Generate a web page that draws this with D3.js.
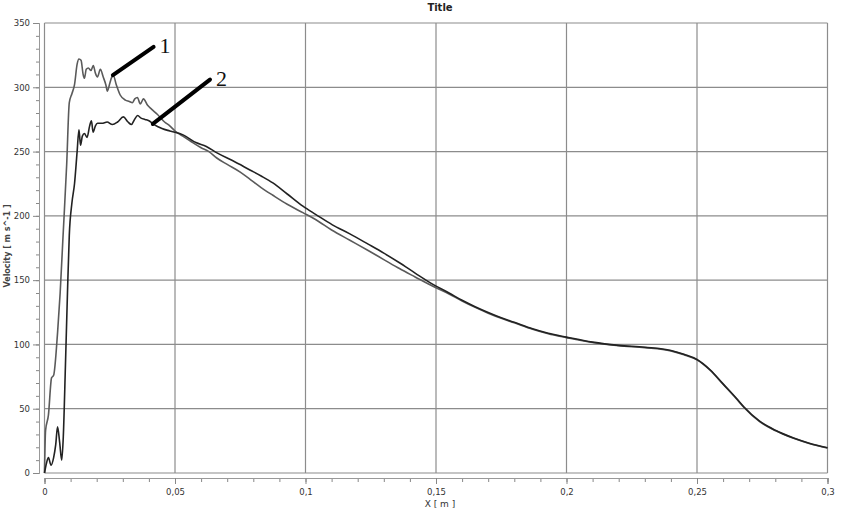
<!DOCTYPE html>
<html><head><meta charset="utf-8">
<script src="https://cdn.jsdelivr.net/npm/d3@7"></script>
<style>body{margin:0;background:#fff}svg{display:block}</style>
</head><body>
<svg id="c" width="843" height="514"></svg>
<script>
const curve1X = [0,0.0004,0.0015,0.0027,0.0035,0.005,0.006,0.007,0.0085,0.0095,0.0105,0.0115,0.0125,0.0132,0.014,0.0148,0.0153,0.016,0.0168,0.0178,0.0187,0.0195,0.0203,0.0214,0.0225,0.0235,0.0241,0.025,0.0258,0.0264,0.0275,0.029,0.031,0.0325,0.0337,0.0346,0.0356,0.0367,0.0379,0.0395,0.041,0.0432,0.046,0.048,0.05,0.053,0.056,0.06,0.063,0.066,0.07,0.075,0.079,0.083,0.0875,0.093,0.099,0.104,0.11,0.117,0.124,0.13,0.136,0.142,0.149,0.155,0.16,0.165,0.17,0.175,0.18,0.187,0.193,0.2,0.21,0.22,0.23,0.24,0.245,0.25,0.255,0.26,0.265,0.268,0.274,0.28,0.287,0.293,0.3];
const curve1Y = [0,33,45,74,76,109,140,180,240,288,295,302,318,322,321,310,307,314,315,313,317,311,308,314,308,302,297,303,308,309,302,294,290,289,288,291,292,287,291,286,283,279,273,270,266,262,258,253,250,245,240,234,228,222,216,209,202.5,197,189,181,173,166,159,152.5,145,139.2,133.8,128.8,124.3,120.3,116.8,111.8,108.3,105.3,101.5,99,97.5,95,92,88,80,69,58,51,40,33,27,23,19.5];
const curve2X = [0,0.0008,0.0015,0.0025,0.0035,0.0043,0.005,0.0058,0.0066,0.0072,0.008,0.0088,0.0095,0.0105,0.0115,0.0125,0.0132,0.0138,0.0145,0.0153,0.0163,0.0173,0.018,0.0186,0.0195,0.0203,0.022,0.024,0.026,0.028,0.0302,0.032,0.0333,0.0345,0.0357,0.037,0.0385,0.04,0.042,0.045,0.048,0.0531,0.058,0.062,0.0661,0.072,0.0787,0.083,0.0875,0.093,0.099,0.104,0.1103,0.117,0.124,0.13,0.136,0.142,0.149,0.155,0.16,0.165,0.17,0.175,0.18,0.187,0.193,0.2,0.21,0.22,0.23,0.24,0.245,0.25,0.255,0.26,0.265,0.268,0.274,0.28,0.287,0.293,0.3];
const curve2Y = [0,8,12,6,12,22,36,24,10,28,82,140,185,210,225,250,267,255,262,264,261,270,274,265,270,272,272,273,271,273,277,273,271,275,278,276,275,274,271,268,266,263,257,254,249,243,235.7,231,225.6,217,207.5,201,193,186,178,171,163.5,155.5,146.5,140,134.3,129.3,124.8,120.7,117.2,112.2,108.7,105.7,101.8,99.3,97.8,95.3,92.3,88.3,80.3,69.3,58.3,51.3,40.3,33.2,27.2,23.2,19.6];
const xTicks = [0,0.05,0.1,0.15,0.2,0.25,0.3];
const xTickLabels = ["0","0,05","0,1","0,15","0,2","0,25","0,3"];
const yTicks = [0,50,100,150,200,250,300,350];
const annotLabels = ["1","2"];
const annotFrom = [[0.0262,309.5],[0.0415,271.5]];
const annotTo = [[0.0418,331.5],[0.0634,306]];

const svg = d3.select("#c");
const x = d3.scaleLinear().domain([0,0.3]).range([44.5,827.5]);
const y = d3.scaleLinear().domain([0,350]).range([473,23]);

// grid
svg.append("g").selectAll("line").data(xTicks).join("line")
  .attr("x1",d=>x(d)).attr("x2",d=>x(d)).attr("y1",y(350)).attr("y2",y(0))
  .attr("stroke","#8c8c8c").attr("stroke-width",1.2);
svg.append("g").selectAll("line").data(yTicks).join("line")
  .attr("x1",x(0)).attr("x2",x(0.3)).attr("y1",d=>y(d)).attr("y2",d=>y(d))
  .attr("stroke","#8c8c8c").attr("stroke-width",1.2);

// axes
const xAxis = svg.append("g").attr("transform","translate(0,478)");
xAxis.call(d3.axisBottom(x).tickValues(d3.range(0,31).map(i=>i/100)).tickSize(4).tickFormat(""));
xAxis.append("g").call(d3.axisBottom(x).tickValues(xTicks).tickSize(6).tickFormat((d,i)=>xTickLabels[i]));
xAxis.selectAll("path").attr("stroke","#999");
xAxis.selectAll("line").attr("stroke","#888");
xAxis.selectAll("text").attr("fill","#333").style("font-family","DejaVu Sans").style("font-size","8.5px").attr("dy","0.9em");

const yAxis = svg.append("g").attr("transform","translate(39,0)");
yAxis.call(d3.axisLeft(y).tickValues(d3.range(0,36).map(i=>i*10)).tickSize(3).tickFormat(""));
yAxis.append("g").call(d3.axisLeft(y).tickValues(yTicks).tickSize(6).tickFormat(d=>d));
yAxis.selectAll("path").attr("stroke","#999");
yAxis.selectAll("line").attr("stroke","#888");
yAxis.selectAll("text").attr("fill","#333").style("font-family","DejaVu Sans").style("font-size","8.5px");

// curves
const line = d3.line().x(d=>x(d[0])).y(d=>y(d[1])).curve(d3.curveMonotoneX);
const c1 = curve1X.map((v,i)=>[v,curve1Y[i]]);
const c2 = curve2X.map((v,i)=>[v,curve2Y[i]]);
svg.append("path").datum(c1).attr("d",line).attr("fill","none").attr("stroke","#5a5a5a").attr("stroke-width",1.6);
svg.append("path").datum(c2).attr("d",line).attr("fill","none").attr("stroke","#222").attr("stroke-width",1.6);

// annotations
annotLabels.forEach((t,i)=>{
  svg.append("line").attr("x1",x(annotFrom[i][0])).attr("y1",y(annotFrom[i][1]))
    .attr("x2",x(annotTo[i][0])).attr("y2",y(annotTo[i][1]))
    .attr("stroke","#000").attr("stroke-width",4).attr("stroke-linecap","round");
  svg.append("text").attr("x",x(annotTo[i][0])+6).attr("y",y(annotTo[i][1])+6)
    .attr("font-family","Liberation Serif").attr("font-size",22).attr("fill","#111").text(t);
});

// titles
svg.append("text").attr("x",440).attr("y",11).attr("text-anchor","middle")
  .attr("font-family","DejaVu Sans").attr("font-weight","bold").attr("font-size",10).attr("fill","#222").text("Title");
svg.append("text").attr("x",440).attr("y",507).attr("text-anchor","middle")
  .attr("font-family","DejaVu Sans").attr("font-size",9).attr("fill","#333").text("X [ m ]");
svg.append("text").attr("transform","translate(10,246) rotate(-90)").attr("text-anchor","middle")
  .attr("font-family","DejaVu Sans").attr("font-weight","bold").attr("font-size",8).attr("fill","#444").text("Velocity [ m s^-1 ]");
</script>
</body></html>
